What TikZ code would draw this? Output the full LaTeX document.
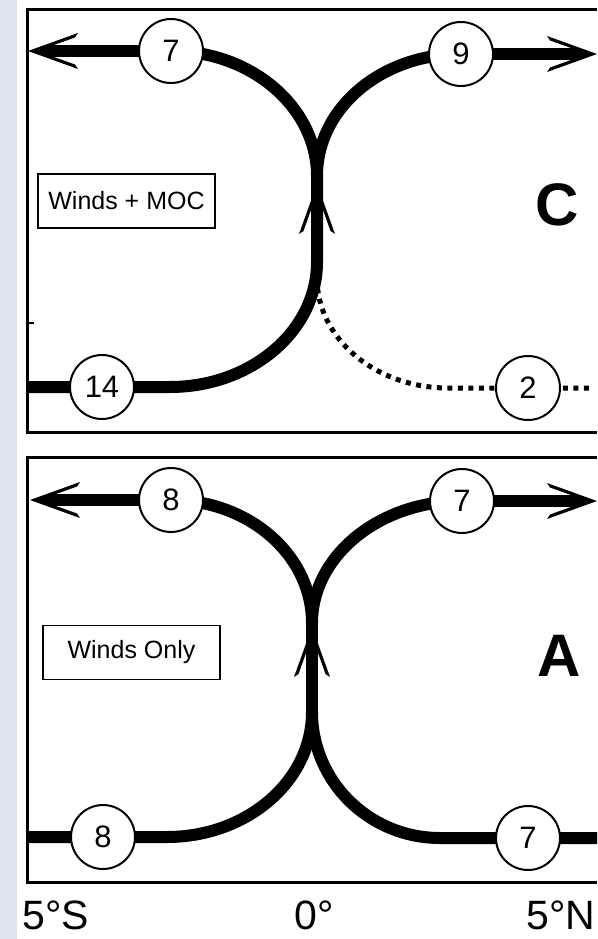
\documentclass[tikz,border=0pt]{standalone}
\usepackage{fontspec}
\setmainfont{Liberation Sans}
\pgfdeclarelayer{bg}
\pgfdeclarelayer{flows}
\pgfsetlayers{bg,flows,main}
\definecolor{stripcol}{RGB}{221,228,239}
\tikzset{
  flow/.style={line width=12pt, line cap=butt},
  dotflow/.style={line width=5pt, line cap=butt, dash pattern=on 5pt off 5.5pt},
  numcirc/.style={circle, draw, line width=2pt, fill=white, minimum size=64pt,
    inner sep=0pt, font=\fontsize{31}{31}\selectfont},
  tagbox/.style={draw, line width=1.5pt, minimum width=177pt, minimum height=54pt,
    inner sep=0pt, font=\fontsize{25}{25}\selectfont},
  panelletter/.style={inner sep=0pt, font=\fontsize{60}{60}\selectfont\bfseries},
  axislabel/.style={anchor=base, inner sep=0pt, font=\fontsize{41}{41}\selectfont},
  frame/.style={line width=3pt, line join=miter},
  barb/.pic={\fill (0,0) -- (50,18) -- (47,13.5) -- (26,6) -- (26,-6)
    -- (47,-13.5) -- (50,-18) -- cycle;}
}
\begin{document}
\begin{tikzpicture}[x=1pt, y=-1pt]
\useasboundingbox (0,0) rectangle (597,939);
\begin{pgfonlayer}{bg}
  \fill[white] (0,0) rectangle (597,939);
  \fill[stripcol] (0,0) rectangle (17,939);
\end{pgfonlayer}

% ---------- panel C : winds + MOC ----------
\draw[frame] (597,10) -- (27,10) -- (27,432) -- (597,432);
\draw[line width=1.5pt] (27,323) -- (34,323);

\node[numcirc] (c7) at (171,51) {7};
\node[numcirc] (c9) at (461,54) {9};
\node[numcirc] (c14) at (102,387) {14};
\node[numcirc] (c2) at (528,388) {2};
\coordinate (tipC7) at (28,51);
\coordinate (tipC9) at (597,54);
\coordinate (mergeC) at (317,176);
\coordinate (upC) at (317,184);
\coordinate (bendC) at (317,262);
\coordinate (edgeC14) at (27,387);
\coordinate (dotC0) at (317,278);
\coordinate (dotC1) at (592,388);

\node[tagbox] (boxC) at (126.5,201) {Winds + MOC};
\node[panelletter] (letC) at (557,205) {C};

\begin{pgfonlayer}{flows}
  \draw[dotflow] (dotC0) .. controls (317,338.7) and (375.7,388) .. (448,388)
    -- (c2.center) -- (dotC1);
  \draw[flow] (edgeC14) -- (c14.center) -- (170,387)
    .. controls (251,387) and (317,331) .. (bendC) -- (mergeC);
  \draw[flow] (mergeC) .. controls (317,107.5) and (251.6,51) .. (c7.center);
  \draw[flow, shorten >=25pt] (c7.center) -- (tipC7);
  \draw[flow] (mergeC) .. controls (317,108) and (381.5,54) .. (c9.center);
  \draw[flow, shorten >=25pt] (c9.center) -- (tipC9);
\end{pgfonlayer}
\pic[rotate=0] at (tipC7) {barb};
\pic[rotate=180] at (tipC9) {barb};
\pic[rotate=-90] at (upC) {barb};

% ---------- panel A : winds only ----------
\draw[frame] (597,457) -- (27,457) -- (27,882) -- (597,882);

\node[numcirc] (a8) at (171,500) {8};
\node[numcirc] (a7) at (462,501) {7};
\node[numcirc] (b8) at (103,837) {8};
\node[numcirc] (b7) at (528,838) {7};
\coordinate (tipA8) at (30,500);
\coordinate (tipA7) at (597,501);
\coordinate (mergeA) at (312,623);
\coordinate (upA) at (312,627);
\coordinate (splitA) at (312,712);
\coordinate (edgeA8) at (27,837);
\coordinate (edgeA7) at (597,838);

\node[tagbox] (boxA) at (131.5,652.5) {Winds Only};
\node[panelletter] (letA) at (559,656) {A};

\begin{pgfonlayer}{flows}
  \draw[flow] (splitA) -- (mergeA);
  \draw[flow] (mergeA) .. controls (312,555) and (248.8,500) .. (a8.center);
  \draw[flow, shorten >=25pt] (a8.center) -- (tipA8);
  \draw[flow] (mergeA) .. controls (312,556) and (379.2,501) .. (a7.center);
  \draw[flow, shorten >=25pt] (a7.center) -- (tipA7);
  \draw[flow] (splitA) .. controls (312,781) and (247,837) .. (167,837)
    -- (b8.center) -- (edgeA8);
  \draw[flow] (splitA) .. controls (312,781.5) and (369.3,838) .. (440,838)
    -- (b7.center) -- (edgeA7);
\end{pgfonlayer}
\pic[rotate=0] at (tipA8) {barb};
\pic[rotate=180] at (tipA7) {barb};
\pic[rotate=-90] at (upA) {barb};

% ---------- latitude axis ----------
\node[axislabel] (latS) at (56,929) {5°S};
\node[axislabel] (lat0) at (314,929) {0°};
\node[axislabel] (latN) at (561,929) {5°N};
\end{tikzpicture}
\end{document}
